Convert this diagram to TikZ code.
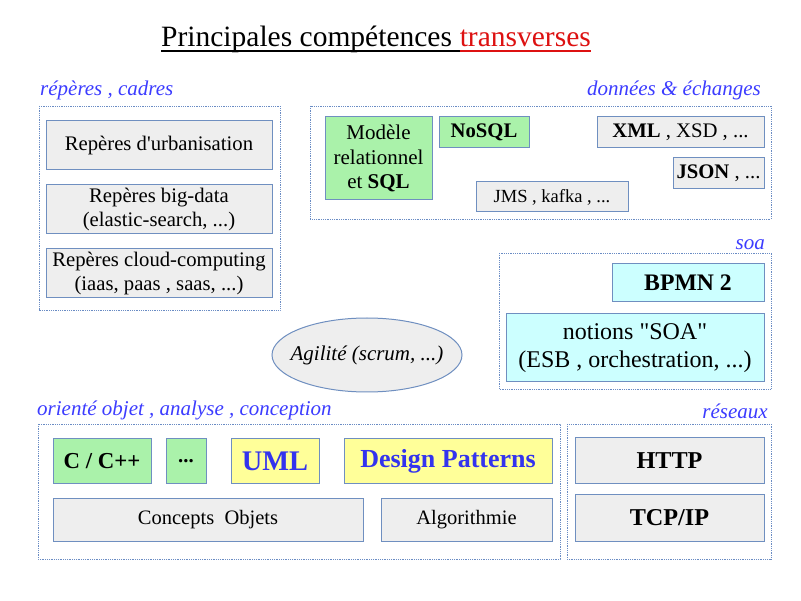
\documentclass[tikz,border=0pt]{standalone}
\usepackage{fontspec}
\setmainfont{Liberation Serif}[Ligatures=TeXOff]
\usetikzlibrary{shapes.geometric}
\definecolor{grpline}{HTML}{6A8CC4}
\definecolor{boxline}{HTML}{6F8FC0}
\definecolor{boxgray}{HTML}{EEEEEE}
\definecolor{boxgreen}{HTML}{AAF2AA}
\definecolor{boxyellow}{HTML}{FFFF99}
\definecolor{boxcyan}{HTML}{CCFFFF}
\definecolor{lblblue}{HTML}{3C3CFF}
\definecolor{umlblue}{HTML}{3333EE}
\definecolor{titlered}{HTML}{DD1111}
\newcommand{\fs}[1]{\fontsize{#1}{\fpeval{1.17*#1}}\selectfont}
\tikzset{
  grp/.style={draw=grpline, densely dotted, line width=0.8pt},
  box/.style={draw=boxline, line width=1pt, align=center, inner sep=0pt},
  gray/.style={box, fill=boxgray},
  green/.style={box, fill=boxgreen},
  yellow/.style={box, fill=boxyellow},
  cyan/.style={box, fill=boxcyan},
  lbl/.style={text=lblblue, font=\fs{21}\itshape, inner sep=0pt},
  ttl/.style={anchor=base west, inner sep=0pt, font=\fs{29.5}},
  uline/.style={line width=1.7pt},
}
\begin{document}
\begin{tikzpicture}[x=1pt,y=-1pt]
\useasboundingbox[fill=white] (0,0) rectangle (801,601);

% title, underlined in two colours
\node[ttl] (t1) at (161,47) {Principales compétences};
\node[ttl, text=titlered, xshift=7.4pt] (t2) at (t1.base east) {transverses};
\draw[uline, black] ([yshift=-4pt]t1.base west) -- ([yshift=-4pt]t2.base west);
\draw[uline, titlered] ([yshift=-4pt]t2.base west) -- ([yshift=-4pt]t2.base east);

% group frames
\draw[grp] (39,106) rectangle (280,310);
\draw[grp] (310,106) rectangle (771,219);
\draw[grp] (499,253) rectangle (771,389);
\draw[grp] (38,424) rectangle (560,559);
\draw[grp] (567,424) rectangle (771,559);

% group labels
\node[lbl, anchor=base west] (l1) at (40,96) {répères , cadres};
\node[lbl, anchor=base east] (l2) at (761,96) {données \& échanges};
\node[lbl, anchor=base east] (l3) at (765,250) {soa};
\node[lbl, anchor=base west] (l4) at (37,416) {orienté objet , analyse , conception};
\node[lbl, anchor=base east] (l5) at (768,419) {réseaux};

% repères, cadres
\node[gray, minimum width=226, minimum height=49, font=\fs{20.7}] (urb) at (159,145.5) {Repères d'urbanisation};
\node[gray, minimum width=226, minimum height=49, font=\fs{20.7}] (big) at (159,209.5) {Repères big-data\\(elastic-search, ...)};
\node[gray, minimum width=226, minimum height=49, font=\fs{20.7}] (cloud) at (159,273.5) {Repères cloud-computing\\(iaas, paas , saas, ...)};

% données & échanges
\node[green, minimum width=107, minimum height=83, font=\fs{21}] (mod) at (378.5,158.5) {Modèle\\relationnel\\et \textbf{SQL}};
\node[green, minimum width=90, minimum height=31, font=\fs{20.7}\bfseries] (nosql) at (484,132.5) {NoSQL};
\node[gray, minimum width=167, minimum height=31, font=\fs{20.7}] (xml) at (680.5,132.5) {\textbf{XML} , XSD , ...};
\node[gray, minimum width=91, minimum height=31, font=\fs{20.7}] (json) at (718.5,173.5) {\textbf{JSON} , ...};
\node[gray, minimum width=152, minimum height=30, font=\fs{18.5}] (jms) at (552,197) {JMS , kafka , ...};

% soa
\node[cyan, minimum width=152, minimum height=38, font=\fs{23.7}\bfseries] (bpmn) at (688,283) {BPMN 2};
\node[cyan, minimum width=258, minimum height=68, font=\fs{24}] (soa) at (635,348) {notions "SOA"\\(ESB , orchestration, ...)};

% agilité: fixed-size ellipse, text overlaid without enlarging it
\node[draw=boxline, fill=boxgray, line width=1pt, ellipse, minimum width=190, minimum height=74, inner sep=0pt, font=\fs{21}\itshape] (agil) at (367,355) {\makebox[0pt]{Agilité (scrum, ...)}};

% orienté objet
\node[green, minimum width=98, minimum height=45, font=\fs{22.8}\bfseries] (cpp) at (102,461.5) {C / C++};
\node[green, minimum width=40, minimum height=45, font=\fs{20.7}\bfseries] (etc) at (186,461.5) {...};
\node[yellow, minimum width=88, minimum height=45, font=\fs{28.4}\bfseries, text=umlblue] (uml) at (275,461.5) {UML};
\node[yellow, minimum width=208, minimum height=45, font=\fs{26}\bfseries, text=umlblue] (dp) at (448,461.5) {Design Patterns};
\node[gray, minimum width=310, minimum height=42, font=\fs{20.5}] (concepts) at (208,520) {Concepts~~Objets};
\node[gray, minimum width=171, minimum height=42, font=\fs{20.5}] (algo) at (466.5,520) {Algorithmie};

% réseaux
\node[gray, minimum width=189, minimum height=46, font=\fs{24.2}\bfseries] (http) at (669.5,461) {HTTP};
\node[gray, minimum width=189, minimum height=46, font=\fs{24.2}\bfseries] (tcp) at (669.5,518) {TCP/IP};
\end{tikzpicture}
\end{document}
